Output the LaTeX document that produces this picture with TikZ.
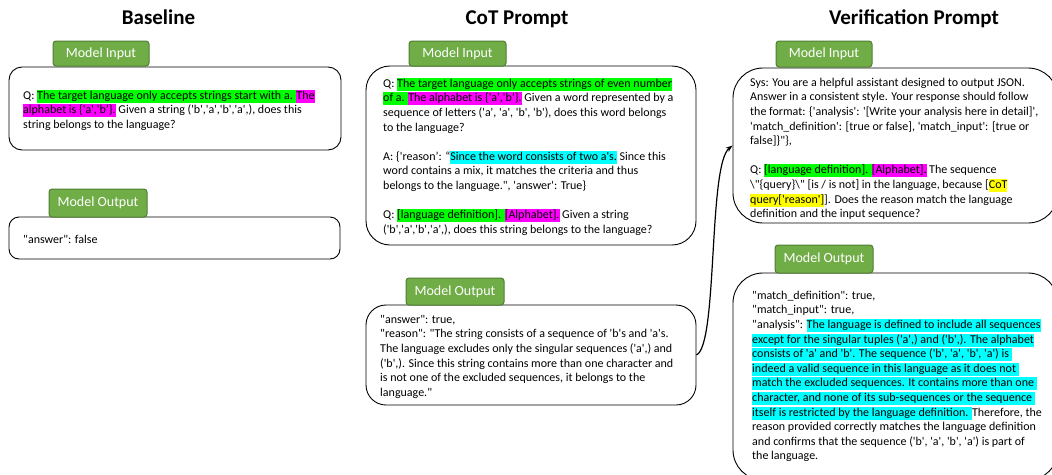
\documentclass[tikz,border=0pt]{standalone}
\usepackage{fontspec}
\newfontfamily\calib{Carlito}
\usetikzlibrary{arrows.meta}
\definecolor{tabfill}{HTML}{70AD47}
\definecolor{tabdraw}{HTML}{507E32}
\definecolor{hlgreen}{HTML}{00FF00}
\definecolor{hlmag}{HTML}{FF00FF}
\definecolor{hlcyan}{HTML}{00FFFF}
\definecolor{hlyel}{HTML}{FFFF00}
\newcommand\hlstr{\vrule height 9.5pt depth 3.5pt width 0pt}
\newcommand\hlbox[2]{{\setlength{\fboxsep}{0pt}\colorbox{#1}{\hlstr#2}}}
\newcommand\HLg[1]{\hlbox{hlgreen}{#1}}
\newcommand\HLm[1]{\hlbox{hlmag}{#1}}
\newcommand\HLc[1]{\hlbox{hlcyan}{#1}}
\newcommand\HLy[1]{\hlbox{hlyel}{#1}}
\tikzset{
  titletext/.style={anchor=base, inner sep=0pt, font=\calib\bfseries\fontsize{21pt}{25pt}\selectfont},
  tab/.style={draw=tabdraw, fill=tabfill, line width=1pt, rounded corners=3pt, inner sep=0pt, text=white, font=\calib\fontsize{14pt}{16pt}\selectfont},
  box/.style={draw=black, line width=0.9pt, inner sep=0pt, fill=white},
  txt/.style={anchor=north west, inner sep=0pt, align=left, font=\calib\fontsize{12pt}{14.6pt}\selectfont},
  link/.style={-{Stealth[length=7pt,width=5pt]}, line width=1.2pt}
}
\begin{document}
\begin{tikzpicture}[x=1pt,y=-1pt]
\useasboundingbox (0,0) rectangle (1052,474);
% titles
\node[titletext] (t1) at (158.5,24.5) {Baseline};
\node[titletext] (t2) at (517,24.5) {CoT Prompt};
\node[titletext] (t3) at (914,24.5) {Verification Prompt};
% boxes
\node[box, minimum width=332pt, minimum height=83pt, rounded corners=13pt] (bin) at (175,108.5) {};
\node[box, minimum width=331pt, minimum height=42pt, rounded corners=10pt] (bout) at (174.5,238) {};
\node[box, minimum width=330pt, minimum height=179pt, rounded corners=24pt] (cin) at (531,155.5) {};
\node[box, minimum width=330pt, minimum height=100pt, rounded corners=20pt] (cout) at (531,355) {};
\node[box, minimum width=325pt, minimum height=155pt, rounded corners=30pt] (vin) at (895.5,145.5) {};
\node[box, minimum width=325pt, minimum height=207pt, rounded corners=30pt] (vout) at (895.5,376.5) {};
% tabs
\node[tab, minimum width=96pt, minimum height=25pt] (tab1) at (101,53.5) {Model Input};
\node[tab, minimum width=98pt, minimum height=28pt] (tab2) at (98,203) {Model Output};
\node[tab, minimum width=97pt, minimum height=25pt] (tab3) at (457.5,53.5) {Model Input};
\node[tab, minimum width=98pt, minimum height=27pt] (tab4) at (455,291.5) {Model Output};
\node[tab, minimum width=96pt, minimum height=26pt] (tab5) at (824,54) {Model Input};
\node[tab, minimum width=98pt, minimum height=28pt] (tab6) at (824,259) {Model Output};
% texts
\node[txt] (bintext) at (23,89.5) {\hlstr Q: \HLg{The target language only accepts strings start with a. }\HLm{The}\\
\HLm{alphabet is \{'a','b’\}.} Given a string ('b','a','b','a',), does this\\
string belongs to the language?};
\node[txt] (bouttext) at (23,233.5) {\hlstr "answer": false};
\node[txt] (cintext) at (383,77.5) {\hlstr Q: \HLg{The target language only accepts strings of even number}\\
\HLg{of a. }\HLm{The alphabet is \{'a','b’\}.} Given a word represented by a\\
sequence of letters ('a', 'a', 'b', 'b'), does this word belongs\\
to the language?\\[14.6pt]
A: \{'reason’: “\HLc{Since the word consists of two a's.} Since this\\
word contains a mix, it matches the criteria and thus\\
belongs to the language.", 'answer': True\}\\[14.6pt]
Q: \HLg{[language definition]. }\HLm{[Alphabet].} Given a string\\
('b','a','b','a',), does this string belongs to the language?};
\node[txt] (couttext) at (380,313.5) {\hlstr "answer": true,\\
"reason": "The string consists of a sequence of 'b's and 'a's.\\
The language excludes only the singular sequences ('a',) and\\
('b',). Since this string contains more than one character and\\
is not one of the excluded sequences, it belongs to the\\
language."};
\node[txt] (vintext) at (750,76.5) {\hlstr Sys: You are a helpful assistant designed to output JSON.\\
Answer in a consistent style. Your response should follow\\
the format: \{'analysis': '[Write your analysis here in detail]',\\
'match\_definition': [true or false], 'match\_input': [true or\\
false]\}"\},\\[14.6pt]
Q: \HLg{[language definition]. }\HLm{[Alphabet].} The sequence\\
\textbackslash"\{query\}\textbackslash" [is / is not] in the language, because [\HLy{CoT}\\
\HLy{query['reason']}]. Does the reason match the language\\
definition and the input sequence?};
\node[txt] (vouttext) at (752,289.5) {\hlstr "match\_definition": true,\\
"match\_input": true,\\
"analysis": \HLc{The language is defined to include all sequences}\\
\HLc{except for the singular tuples ('a',) and ('b',). The alphabet}\\
\HLc{consists of 'a' and 'b'. The sequence ('b', 'a', 'b', 'a') is }\\
\HLc{indeed a valid sequence in this language as it does not }\\
\HLc{match the excluded sequences. It contains more than one }\\
\HLc{character, and none of its sub-sequences or the sequence }\\
\HLc{itself is restricted by the language definition. }Therefore, the\\
reason provided correctly matches the language definition\\
and confirms that the sequence ('b', 'a', 'b', 'a') is part of\\
the language.};
% connector
\draw[link] (cout.east) .. controls (718,345) and (708,165) .. (vin.west);
\end{tikzpicture}
\end{document}
